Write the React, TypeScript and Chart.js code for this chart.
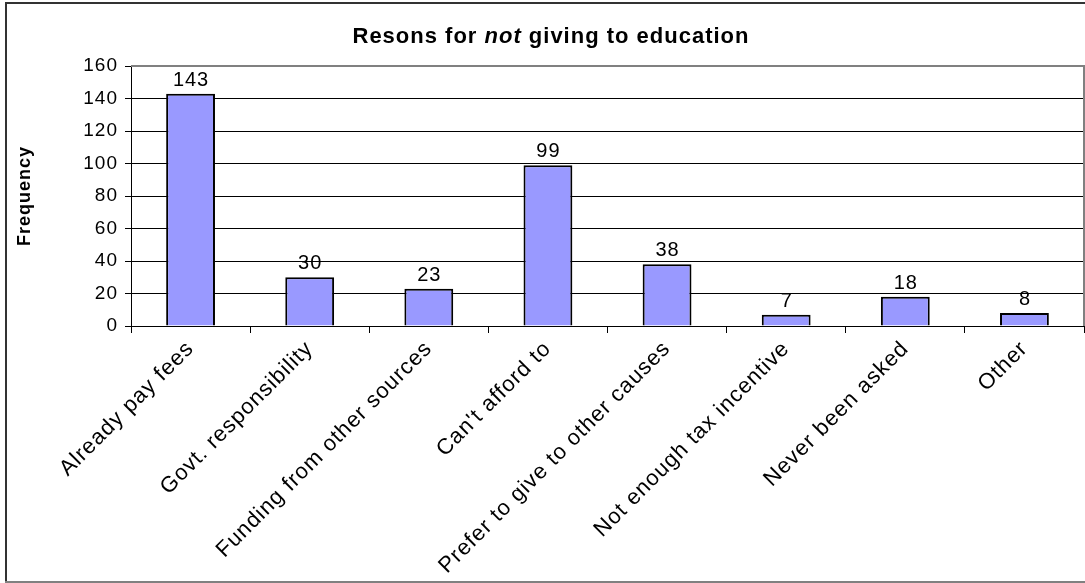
import React, { useEffect, useRef } from "react";
import { Chart, registerables } from "chart.js";

Chart.register(...registerables);

const categories = [
  "Already pay fees",
  "Govt. responsibility",
  "Funding from other sources",
  "Can't afford to",
  "Prefer to give to other causes",
  "Not enough tax incentive",
  "Never been asked",
  "Other",
];
const frequencies = [143, 30, 23, 99, 38, 7, 18, 8];
const yMin = 0;
const yMax = 160;
const yStep = 20;
const titleParts = [
  { text: "Resons for ", italic: false },
  { text: "not", italic: true },
  { text: " giving to education", italic: false },
];
const yAxisTitle = "Frequency";

const FONT = "'Liberation Sans', Arial, Helvetica, sans-serif";

const spacingPlugin = {
  id: "spacing",
  beforeUpdate(chart: any) {
    (chart.ctx as any).letterSpacing = "1px";
  },
  beforeDraw(chart: any) {
    (chart.ctx as any).letterSpacing = "1px";
  },
};

const framePlugin = {
  id: "frame",
  beforeDraw(chart: any) {
    const ctx = chart.ctx;
    ctx.save();
    ctx.fillStyle = "#ffffff";
    ctx.fillRect(0, 0, chart.width, chart.height);
    ctx.lineWidth = 2;
    ctx.strokeStyle = "#333333";
    ctx.beginPath();
    ctx.moveTo(6, chart.height + 5);
    ctx.lineTo(6, 3);
    ctx.lineTo(chart.width + 5, 3);
    ctx.stroke();
    ctx.strokeStyle = "#808080";
    ctx.beginPath();
    ctx.moveTo(5, 582);
    ctx.lineTo(chart.width + 5, 582);
    ctx.stroke();
    ctx.restore();
  },
};

const plotBorderPlugin = {
  id: "plotBorder",
  beforeDatasetsDraw(chart: any) {
    const { ctx, chartArea } = chart;
    ctx.save();
    ctx.strokeStyle = "#808080";
    ctx.lineWidth = 2;
    ctx.beginPath();
    ctx.moveTo(chartArea.left, chartArea.top);
    ctx.lineTo(chartArea.right, chartArea.top);
    ctx.lineTo(chartArea.right, chartArea.bottom);
    ctx.stroke();
    ctx.restore();
  },
};

const titlePlugin = {
  id: "mixedTitle",
  afterDraw(chart: any) {
    const ctx = chart.ctx;
    ctx.save();
    ctx.fillStyle = "#000000";
    ctx.textBaseline = "alphabetic";
    ctx.textAlign = "left";
    (ctx as any).letterSpacing = "1px";
    const fonts = titleParts.map((p) => `${p.italic ? "italic " : ""}bold 22px ${FONT}`);
    const widths = titleParts.map((p, i) => {
      ctx.font = fonts[i];
      return ctx.measureText(p.text).width;
    });
    const total = widths.reduce((a, b) => a + b, 0);
    let x = 551 - total / 2;
    titleParts.forEach((p, i) => {
      ctx.font = fonts[i];
      ctx.fillText(p.text, x, 43);
      x += widths[i];
    });
    ctx.restore();
  },
};

const dataLabelPlugin = {
  id: "dataLabels",
  afterDatasetsDraw(chart: any) {
    const ctx = chart.ctx;
    const meta = chart.getDatasetMeta(0);
    ctx.save();
    ctx.fillStyle = "#000000";
    (ctx as any).letterSpacing = "1px";
    ctx.font = `20px ${FONT}`;
    ctx.textAlign = "center";
    ctx.textBaseline = "alphabetic";
    meta.data.forEach((bar: any, i: number) => {
      ctx.fillText(String(frequencies[i]), bar.x + 0.5, bar.y - 8);
    });
    ctx.restore();
  },
};

export default function App() {
  const canvasRef = useRef<HTMLCanvasElement | null>(null);

  useEffect(() => {
    document.body.style.margin = "0";
    const canvas = canvasRef.current;
    if (!canvas) return;
    const chart = new Chart(canvas, {
      type: "bar",
      data: {
        labels: categories,
        datasets: [
          {
            data: frequencies,
            backgroundColor: "#9999ff",
            borderColor: "#000000",
            borderWidth: 2,
            barPercentage: 0.41,
            categoryPercentage: 1,
          },
        ],
      },
      options: {
        responsive: false,
        animation: false,
        devicePixelRatio: 1,
        layout: { padding: { top: 66, right: 1, left: 0, bottom: 0 } },
        plugins: {
          legend: { display: false },
          title: { display: false },
          tooltip: { enabled: false },
        },
        scales: {
          x: {
            offset: true,
            grid: {
              offset: true,
              drawOnChartArea: false,
              drawTicks: true,
              tickLength: 7,
              color: "#000000",
              lineWidth: 1,
            },
            border: { display: true, color: "#000000", width: 1 },
            ticks: {
              color: "#000000",
              font: { family: FONT, size: 22 },
              minRotation: 45,
              maxRotation: 45,
              autoSkip: false,
              padding: 3,
            },
            afterFit(scale: any) {
              scale.height = 257;
            },
          },
          y: {
            min: yMin,
            max: yMax,
            grid: {
              color: "#000000",
              lineWidth: 1,
              tickLength: 6,
              drawTicks: true,
            },
            border: { display: true, color: "#000000", width: 1 },
            ticks: {
              stepSize: yStep,
              color: "#000000",
              font: { family: FONT, size: 19 },
              padding: 7,
            },
            title: {
              display: true,
              text: yAxisTitle,
              color: "#000000",
              font: { family: FONT, size: 18, weight: "bold" },
              padding: { top: 14, bottom: 0 },
            },
            afterFit(scale: any) {
              scale.width = 131;
            },
          },
        },
      },
      plugins: [spacingPlugin, framePlugin, plotBorderPlugin, titlePlugin, dataLabelPlugin],
    });
    return () => chart.destroy();
  }, []);

  return (
    <div style={{ position: "absolute", left: 0, top: 0, width: 1085, height: 583 }}>
      <canvas ref={canvasRef} width={1085} height={583} style={{ width: 1085, height: 583 }} />
    </div>
  );
}
